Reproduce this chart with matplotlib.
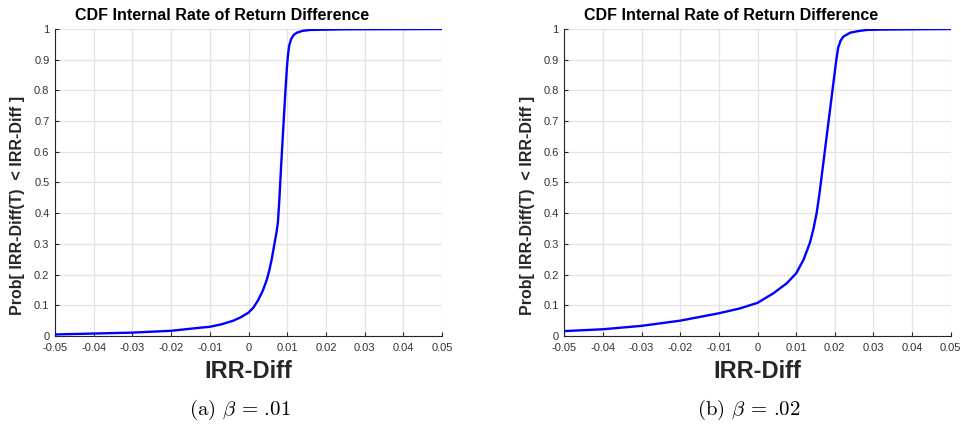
import numpy as np
import matplotlib.pyplot as plt

plt.rcParams['font.family'] = ['Liberation Sans', 'DejaVu Sans']
plt.rcParams['mathtext.fontset'] = 'cm'

# IRR difference vs cumulative probability
irr_a = [-0.05, -0.04, -0.03, -0.02, -0.0125, -0.01, -0.007, -0.0039, -0.002, 0.0,
         0.0013, 0.0025, 0.0037, 0.0047, 0.0054, 0.006, 0.0067, 0.0072, 0.0076,
         0.0080, 0.0085, 0.0090, 0.0095, 0.0099, 0.0102, 0.0105, 0.0110, 0.0117,
         0.0125, 0.014, 0.016, 0.025, 0.05]
cdf_a = [0.005, 0.008, 0.011, 0.017, 0.027, 0.030, 0.038, 0.050, 0.061, 0.076,
         0.093, 0.117, 0.148, 0.182, 0.215, 0.25, 0.30, 0.335, 0.37,
         0.45, 0.57, 0.68, 0.79, 0.87, 0.915, 0.945, 0.967, 0.981,
         0.988, 0.994, 0.997, 0.999, 1.0]

irr_b = [-0.05, -0.04, -0.03, -0.02, -0.01, -0.0045, 0.0, 0.0041, 0.0076, 0.01,
         0.0119, 0.0136, 0.0145, 0.0153, 0.016, 0.017, 0.018, 0.019, 0.0198,
         0.0204, 0.0209, 0.0215, 0.0222, 0.024, 0.026, 0.0283, 0.0317, 0.04, 0.05]
cdf_b = [0.016, 0.022, 0.033, 0.05, 0.074, 0.090, 0.108, 0.139, 0.172, 0.204,
         0.248, 0.305, 0.35, 0.40, 0.46, 0.56, 0.66, 0.76, 0.84,
         0.90, 0.94, 0.962, 0.975, 0.988, 0.993, 0.997, 0.998, 0.999, 1.0]

captions = [r'(a) $\beta\,=\,$.01', r'(b) $\beta\,=\,$.02']
title = 'CDF Internal Rate of Return Difference'
ylab = 'Prob[ IRR-Diff(T)  < IRR-Diff ]'
xticks = np.round(np.arange(-0.05, 0.051, 0.01), 2)
yticks = np.round(np.arange(0, 1.01, 0.1), 1)

fig = plt.figure(figsize=(9.61, 4.25), dpi=100)
W, H = 961, 425
lefts = [55, 564.3]
widths = [387, 386.4]
series = [(irr_a, cdf_a), (irr_b, cdf_b)]

for i in range(2):
    ax = fig.add_axes([lefts[i] / W, (H - 336) / H, widths[i] / W, 307 / H])
    x, y = series[i]
    ax.plot(x, y, color='#0000ff', lw=1.7, zorder=3, solid_joinstyle='round')
    ax.set_xlim(-0.05, 0.05)
    ax.set_ylim(0, 1)
    ax.set_xticks(xticks)
    ax.set_xticklabels(['0' if v == 0 else ('%.2f' % v) for v in xticks])
    ax.set_yticks(yticks)
    ax.set_yticklabels(['0' if v == 0 else ('1' if v == 1 else '%.1f' % v) for v in yticks])
    ax.grid(True, color='#e3e3e3', lw=0.9)
    ax.set_axisbelow(True)
    for s in ['top', 'right']:
        ax.spines[s].set_visible(False)
    for s in ['left', 'bottom']:
        ax.spines[s].set_color('#262626')
        ax.spines[s].set_linewidth(0.8)
    ax.tick_params(direction='in', length=3, width=0.8, labelsize=8,
                   colors='#262626', labelcolor='#333333')
    ax.tick_params(axis='x', pad=5)
    ax.tick_params(axis='y', pad=4)
    fig.text((lefts[i] + 193) / W, 1 - 372 / H, 'IRR-Diff', ha='center', va='center',
             fontsize=17, fontweight='bold', color='#262626')
    cx = lefts[i] + 167
    fig.text(cx / W, 1 - 15 / H, title, ha='center', va='center',
             fontsize=11.5, fontweight='bold')
    fig.text((lefts[i] - 37) / W, 1 - 205 / H, ylab, rotation=90, ha='center',
             va='center', fontsize=11.5, fontweight='bold', color='#262626')
    fig.text((lefts[i] + 185) / W, 1 - 410 / H, captions[i], ha='center',
             va='center', fontsize=15, family='cmr10')

fig.savefig('out.png', dpi=100)
